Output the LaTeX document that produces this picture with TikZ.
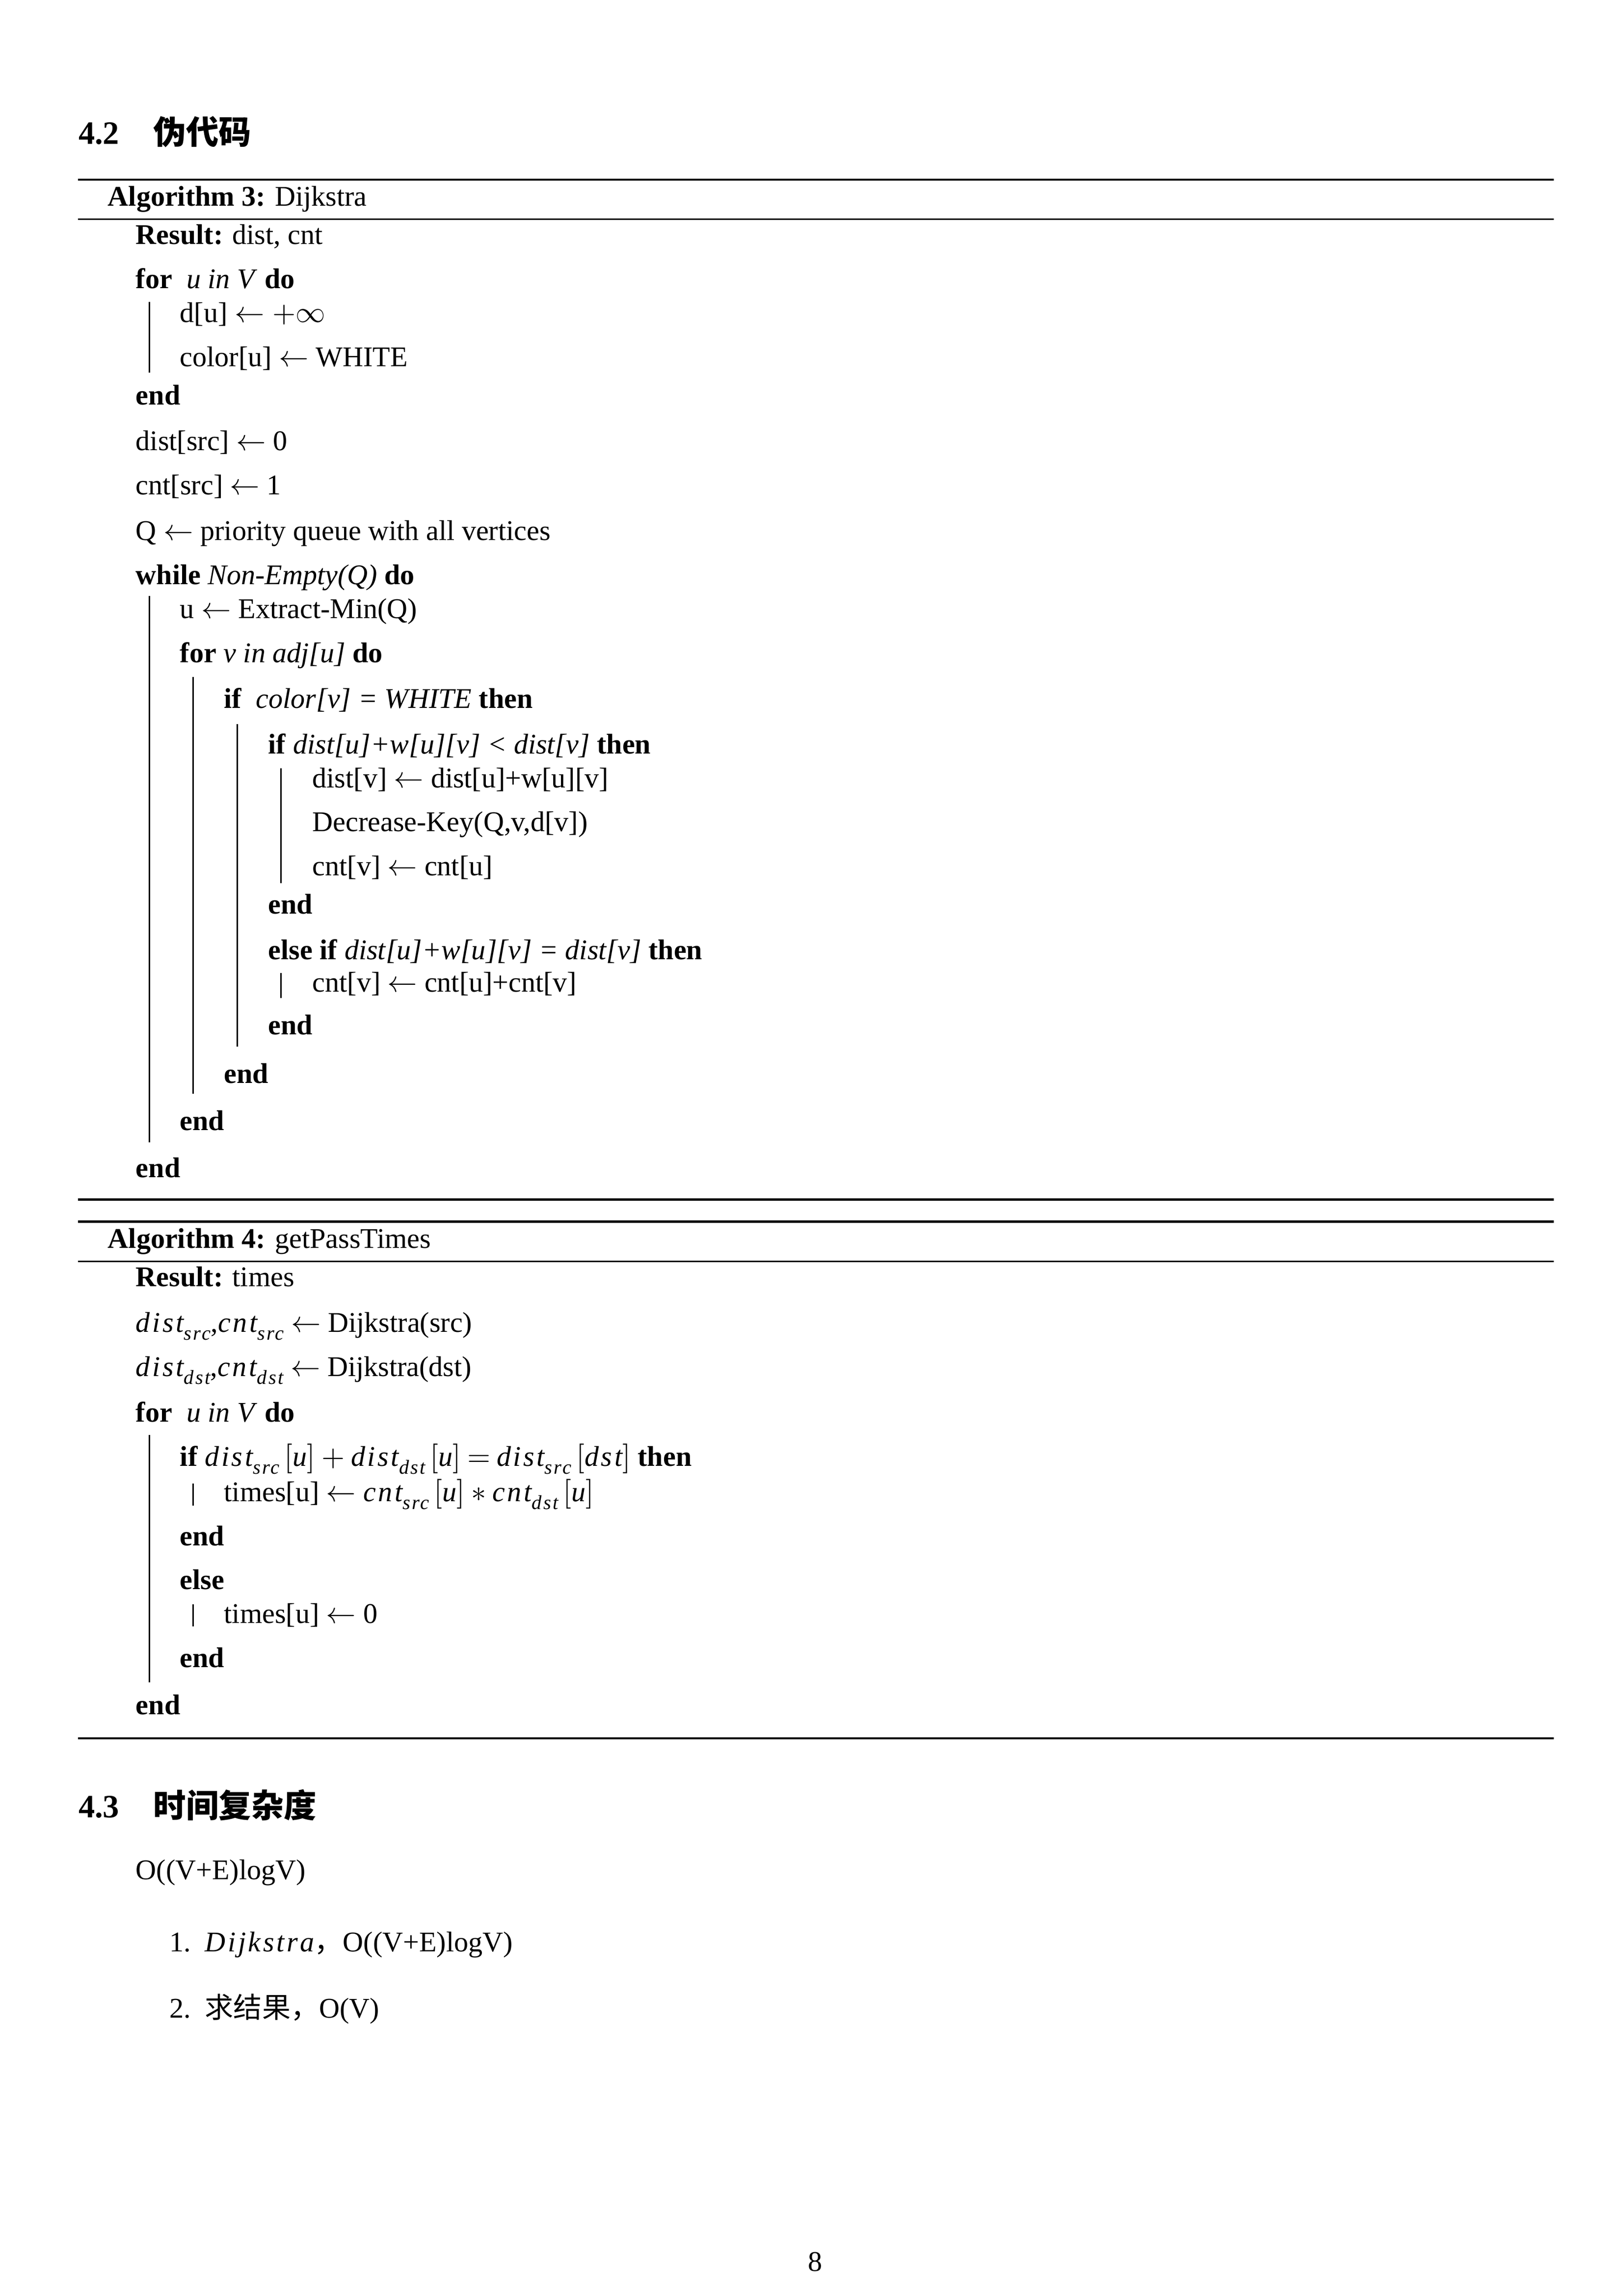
\documentclass[tikz,border=0pt]{standalone}
\usepackage{amsmath,amssymb}
\usepackage{fontspec}
\setmainfont{Liberation Serif}
\newfontfamily\cjk{Noto Sans CJK SC}
\newfontfamily\mitfont{Liberation Serif}[LetterSpace=8]
\usepackage{tikz}

\newcommand{\kw}[1]{\textbf{#1}}
\newcommand{\mvi}[1]{{\mitfont\itshape #1}}
\newcommand{\mvs}[2]{\mvi{#1}\raisebox{-0.28em}{\fontsize{7.35}{8}\selectfont\mvi{#2}}}
\newcommand{\mop}[1]{\hspace{0.22em}$#1$\hspace{0.22em}}

\begin{document}
\begin{tikzpicture}[x=0.01904cm, y=-0.01904cm,
    every node/.style={inner sep=0pt, anchor=base west, font=\fontsize{10.5}{12.6}\selectfont},
    heading/.style={font=\fontsize{12}{14}\selectfont\bfseries},
    toprule/.style={line width=0.8pt},
    thinrule/.style={line width=0.5pt},
    blockline/.style={line width=0.45pt}]
    \useasboundingbox (0,0) rectangle (1103,1560);

    % 4.2 伪代码
    \node[heading] (secA) at (53,98) {4.2};
    \node[heading] (secAtitle) at (104,98) {\cjk\bfseries 伪代码};

    % 算法 3
    \draw[toprule] (53,122) -- (1056,122);
    \node (algA) at (73,140) {\kw{Algorithm 3:} Dijkstra};
    \draw[thinrule] (53,149) -- (1056,149);
    \node (resA) at (92,166) {\kw{Result:} dist, cnt};
    \node (forA) at (92,196) {\kw{for}\ \ \emph{u in V} \kw{do}};
    \node (initd) at (122,219) {d[u] $\leftarrow +\infty$};
    \node (initc) at (122,249) {color[u] $\leftarrow$ WHITE};
    \node (endforA) at (92,275) {\kw{end}};
    \node (dsrc) at (92,306) {dist[src] $\leftarrow$ 0};
    \node (csrc) at (92,336) {cnt[src] $\leftarrow$ 1};
    \node (queue) at (92,367) {Q $\leftarrow$ priority queue with all vertices};
    \node (whileA) at (92,397) {\kw{while} \emph{Non-Empty(Q)} \kw{do}};
    \node (extract) at (122,420) {u $\leftarrow$ Extract-Min(Q)};
    \node (forV) at (122,450) {\kw{for} \emph{v in adj[u]} \kw{do}};
    \node (ifwhite) at (152,481) {\kw{if}\ \ \emph{color[v] = WHITE} \kw{then}};
    \node (ifless) at (182,512) {\kw{if} \emph{dist[u]+w[u][v] < dist[v]} \kw{then}};
    \node (relax) at (212,535) {dist[v] $\leftarrow$ dist[u]+w[u][v]};
    \node (deckey) at (212,565) {Decrease-Key(Q,v,d[v])};
    \node (cntset) at (212,595) {cnt[v] $\leftarrow$ cnt[u]};
    \node (endless) at (182,621) {\kw{end}};
    \node (ifeq) at (182,652) {\kw{else if} \emph{dist[u]+w[u][v] = dist[v]} \kw{then}};
    \node (cntadd) at (212,674) {cnt[v] $\leftarrow$ cnt[u]+cnt[v]};
    \node (endeq) at (182,703) {\kw{end}};
    \node (endwhite) at (152,736) {\kw{end}};
    \node (endforV) at (122,768) {\kw{end}};
    \node (endwhile) at (92,800) {\kw{end}};
    \draw[toprule] (53,815) -- (1056,815);

    % 竖线
    \draw[blockline] (101.5,205) -- (101.5,253);
    \draw[blockline] (101.5,405) -- (101.5,776);
    \draw[blockline] (131.3,460) -- (131.3,743);
    \draw[blockline] (161.2,492) -- (161.2,711);
    \draw[blockline] (191,522) -- (191,600);
    \draw[blockline] (191,661) -- (191,678);

    % 算法 4
    \draw[toprule] (53,830) -- (1056,830);
    \node (algB) at (73,848) {\kw{Algorithm 4:} getPassTimes};
    \draw[thinrule] (53,857) -- (1056,857);
    \node (resB) at (92,874) {\kw{Result:} times};
    \node (runsrc) at (92,905) {\mvs{dist}{src},\mvs{cnt}{src} $\leftarrow$ Dijkstra(src)};
    \node (rundst) at (92,935) {\mvs{dist}{dst},\mvs{cnt}{dst} $\leftarrow$ Dijkstra(dst)};
    \node (forB) at (92,966) {\kw{for}\ \ \emph{u in V} \kw{do}};
    \node (ifon) at (122,996) {\kw{if} \mvs{dist}{src}\,$[$\mvi{u}$]$\mop{+}\mvs{dist}{dst}\,$[$\mvi{u}$]$\mop{=}\mvs{dist}{src}\,$[$\mvi{dst}$]$ \kw{then}};
    \node (timesA) at (152,1020) {times[u] $\leftarrow$ \mvs{cnt}{src}\,$[$\mvi{u}$]$\mop{*}\mvs{cnt}{dst}\,$[$\mvi{u}$]$};
    \node (endon) at (122,1050) {\kw{end}};
    \node (elseB) at (122,1080) {\kw{else}};
    \node (timesB) at (152,1103) {times[u] $\leftarrow$ 0};
    \node (endelse) at (122,1133) {\kw{end}};
    \node (endforB) at (92,1165) {\kw{end}};
    \draw[toprule] (53,1181) -- (1056,1181);

    \draw[blockline] (101.5,975) -- (101.5,1143);
    \draw[blockline] (131.3,1008) -- (131.3,1023);
    \draw[blockline] (131.3,1090) -- (131.3,1105);

    % 4.3 时间复杂度
    \node[heading] (secB) at (53,1235) {4.3};
    \node[heading] (secBtitle) at (104,1235) {\cjk\bfseries 时间复杂度};
    \node (total) at (92,1277) {O((V+E)logV)};
    \node (numA) at (115,1326) {1.};
    \node (itemA) at (139,1326) {\mvi{Dijkstra}{\cjk ，}O((V+E)logV)};
    \node (numB) at (115,1371) {2.};
    \node (itemB) at (139,1371) {{\cjk 求结果，}O(V)};

    % 页码
    \node[anchor=base] (page) at (554,1543) {8};
\end{tikzpicture}
\end{document}
